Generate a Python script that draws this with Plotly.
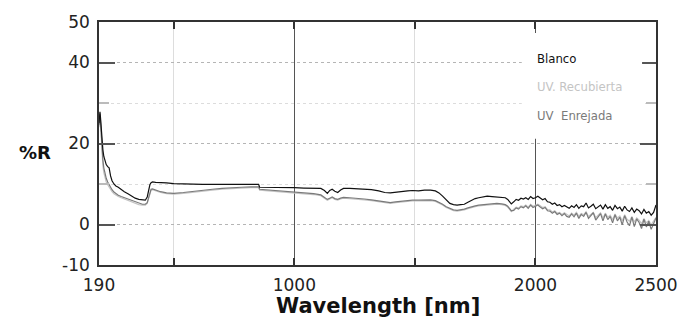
import plotly.graph_objects as go

# ---------------- data ----------------
wavelength = [190, 192, 194, 196, 198, 202, 206, 210, 215, 220, 226, 232, 238, 244, 252, 260, 270, 282,
              295, 310, 325, 340, 355, 370, 382, 390, 396, 401, 406, 412, 425, 445, 470, 500, 540, 580,
              620, 660, 700, 740, 780, 820, 852, 856, 880, 920, 960, 1000, 1040, 1080, 1110, 1125, 1137,
              1147, 1157, 1168, 1180, 1192, 1204, 1230, 1260, 1290, 1320, 1350, 1375, 1398, 1420, 1445,
              1470, 1490, 1515, 1540, 1565, 1585, 1600, 1615, 1630, 1645, 1660, 1675, 1690, 1705, 1720,
              1735, 1750, 1765, 1780, 1800, 1820, 1840, 1860, 1875, 1885, 1893, 1900,
              1910, 1920, 1930, 1940, 1950, 1960, 1970, 1980, 1990, 2000,
              2010, 2020, 2030, 2040, 2050, 2060, 2070, 2080, 2090, 2100,
              2110, 2120, 2130, 2140, 2150, 2160, 2170, 2180, 2190, 2200,
              2210, 2220, 2230, 2240, 2250, 2260, 2270, 2280, 2290, 2300,
              2310, 2320, 2330, 2340, 2350, 2360, 2370, 2380, 2390, 2400,
              2410, 2420, 2430, 2440, 2450, 2460, 2470, 2480, 2490, 2500]

blanco = [25.0, 27.0, 27.8, 26.5, 24.5, 21.5, 18.5, 16.8, 15.8, 14.8, 14.3, 14.0, 12.0, 10.8, 10.0, 9.5,
          9.2, 8.6, 8.1, 7.6, 7.0, 6.5, 6.2, 6.0, 6.0, 6.8, 8.5, 9.8, 10.3, 10.5, 10.4, 10.4, 10.3, 10.1,
          10.0, 9.9, 9.9, 9.9, 9.9, 9.9, 9.9, 9.9, 9.9, 9.2, 9.2, 9.2, 9.1, 9.1, 9.0, 9.0, 8.9, 8.4, 7.7,
          8.4, 8.7, 8.2, 7.9, 8.5, 8.9, 8.9, 8.8, 8.7, 8.6, 8.3, 7.9, 7.8, 8.0, 8.2, 8.3, 8.4, 8.3, 8.5,
          8.5, 8.3, 7.8, 7.0, 6.0, 5.2, 4.9, 4.8, 4.9, 5.0, 5.5, 6.0, 6.4, 6.6, 6.8, 7.0, 6.9, 6.8, 6.8,
          6.6, 6.2, 5.6, 5.1,
          5.6, 6.2, 6.0, 6.5, 6.3, 6.6, 6.2, 6.9, 6.4, 6.6,
          7.0, 6.5, 6.1, 6.4, 5.6, 5.5, 5.0, 5.3, 4.7, 4.9,
          4.4, 4.7, 4.3, 4.0, 4.6, 4.2, 4.9, 4.0, 4.6, 4.4,
          5.3, 4.1, 4.5, 5.0, 3.9, 4.3, 4.8, 3.8, 4.9, 4.0,
          4.4, 3.5, 4.7, 3.9, 4.3, 3.3, 4.5, 3.6, 3.2, 4.1,
          3.0, 3.8, 3.4, 2.6, 3.7, 2.8, 3.2, 2.3, 3.0, 4.8]

uv_recubierta = [24.0, 26.5, 27.0, 25.0, 22.0, 17.5, 14.5, 12.8, 11.5, 10.5, 9.8, 9.2, 8.6, 8.1, 7.6, 7.2,
                 6.9, 6.6, 6.3, 6.0, 5.6, 5.2, 4.9, 4.8, 4.8, 5.2, 6.5, 7.8, 8.5, 8.6, 8.3, 7.9, 7.6, 7.5,
                 7.7, 8.0, 8.3, 8.5, 8.7, 8.9, 9.0, 9.1, 9.1, 8.5, 8.4, 8.2, 8.0, 7.8, 7.6, 7.4, 7.1, 6.6,
                 6.0, 6.3, 6.6, 6.2, 6.0, 6.3, 6.5, 6.4, 6.3, 6.1, 5.9, 5.6, 5.3, 5.2, 5.4, 5.6, 5.7, 5.8,
                 5.8, 5.9, 5.9, 5.7, 5.3, 4.8, 4.2, 3.7, 3.4, 3.3, 3.4, 3.6, 3.9, 4.2, 4.4, 4.6, 4.7, 4.9,
                 5.0, 5.0, 4.9, 4.7, 4.3, 3.7, 3.2,
                 3.8, 4.3, 4.1, 4.6, 4.4, 4.8, 4.3, 5.0, 4.5, 4.7,
                 5.0, 4.6, 4.2, 4.4, 3.7, 3.6, 3.1, 3.4, 2.8, 3.0,
                 2.5, 2.9, 2.4, 2.1, 2.8, 2.3, 3.0, 2.0, 2.7, 2.4,
                 3.2, 2.0, 2.5, 3.0, 1.7, 2.3, 2.9, 1.6, 2.8, 1.8,
                 2.3, 1.2, 2.6, 1.6, 2.1, 0.9, 2.4, 1.3, 0.8, 2.0,
                 0.6, 1.6, 1.1, 0.2, 1.5, 0.4, 1.0, -0.1, 0.8, 1.8]

uv_enrejada = [24.5, 26.8, 27.4, 25.8, 23.0, 19.0, 16.0, 14.0, 12.6, 11.4, 10.5, 9.8, 9.1, 8.6, 8.0, 7.6,
               7.2, 6.9, 6.6, 6.3, 5.9, 5.5, 5.2, 5.0, 5.0, 5.4, 6.7, 8.0, 8.7, 8.8, 8.5, 8.1, 7.8, 7.7,
               7.9, 8.2, 8.5, 8.7, 8.9, 9.1, 9.2, 9.3, 9.3, 8.7, 8.6, 8.4, 8.2, 8.0, 7.8, 7.6, 7.3, 6.8,
               6.2, 6.5, 6.8, 6.4, 6.2, 6.5, 6.7, 6.6, 6.5, 6.3, 6.1, 5.8, 5.5, 5.4, 5.6, 5.8, 5.9, 6.0,
               6.0, 6.1, 6.1, 5.9, 5.5, 5.0, 4.4, 3.9, 3.6, 3.5, 3.6, 3.8, 4.1, 4.4, 4.6, 4.8, 4.9, 5.1,
               5.2, 5.2, 5.1, 4.9, 4.5, 3.9, 3.4,
               3.5, 4.1, 3.8, 4.4, 4.1, 4.6, 4.0, 4.8, 4.2, 4.5,
               4.8, 4.3, 3.9, 4.2, 3.4, 3.3, 2.8, 3.2, 2.5, 2.8,
               2.2, 2.7, 2.0, 1.8, 2.6, 1.9, 2.8, 1.5, 2.5, 2.0,
               3.0, 1.5, 2.2, 2.9, 1.1, 2.0, 2.7, 0.9, 2.6, 1.2,
               2.0, 0.4, 2.4, 0.9, 1.8, -0.1, 2.2, 0.6, -0.3, 1.8,
               -0.5, 1.4, 0.5, -1.0, 1.3, -0.6, 0.8, -1.2, 0.4, 1.6]

series_names = ["Blanco", "UV. Recubierta", "UV  Enrejada"]
series_colors = ["#111111", "#c4c4c4", "#7a7a7a"]

x_major_ticks = [190, 1000, 2000, 2500]
x_minor_ticks = [500, 1500]
y_major_ticks = [-10, 0, 20, 40, 50]
y_minor_ticks = [10, 30]

# ---------------- figure ----------------
fig = go.Figure()
for name, ys, col in [(series_names[1], uv_recubierta, series_colors[1]),
                      (series_names[2], uv_enrejada, series_colors[2]),
                      (series_names[0], blanco, series_colors[0])]:
    fig.add_trace(go.Scatter(x=wavelength, y=ys, mode="lines", name=name,
                             line=dict(color=col, width=1.2), showlegend=False))

tick_font = dict(family="DejaVu Sans, Arial, sans-serif", size=17, color="#222222")

fig.update_layout(
    width=699, height=321,
    margin=dict(l=99, r=43, t=16, b=56),
    paper_bgcolor="white", plot_bgcolor="white",
    xaxis=dict(
        range=[190, 2500], tickmode="array", tickvals=x_major_ticks,
        ticktext=[str(v) for v in x_major_ticks],
        showgrid=True, gridcolor="#555555", gridwidth=1,
        ticks="inside", ticklen=7, tickcolor="#333333", tickwidth=1.5,
        showline=True, linecolor="#333333", linewidth=1.6, mirror="ticks",
        tickfont=tick_font, ticklabelstandoff=4, zeroline=False,
        minor=dict(tickmode="array", tickvals=x_minor_ticks, showgrid=True,
                   gridcolor="#dddddd", gridwidth=1, ticks="inside", ticklen=7,
                   tickcolor="#333333"),
    ),
    yaxis=dict(
        range=[-10, 50], tickmode="array", tickvals=y_major_ticks,
        ticktext=[str(v) for v in y_major_ticks],
        showgrid=True, gridcolor="#b5b5b5", griddash="dot", gridwidth=1,
        ticks="inside", ticklen=16, tickcolor="#555555", tickwidth=1.5,
        showline=True, linecolor="#333333", linewidth=1.6, mirror="ticks",
        tickfont=tick_font, ticklabelstandoff=4, zeroline=False,
        minor=dict(tickmode="array", tickvals=y_minor_ticks, showgrid=True,
                   gridcolor="#dcdcdc", griddash="dot", gridwidth=1, ticks="inside",
                   ticklen=10, tickcolor="#bbbbbb"),
    ),
)

# white background behind legend texts (covers grid lines there)
fig.add_shape(type="rect", xref="paper", yref="paper", x0=0.759, x1=0.975, y0=0.52, y1=0.955,
              fillcolor="white", line=dict(width=0), layer="above")

legend_font = "Liberation Sans Narrow, DejaVu Sans Condensed, Arial Narrow, sans-serif"
for i, (name, col) in enumerate(zip(series_names, series_colors)):
    fig.add_annotation(xref="paper", yref="paper", x=0.783, y=0.851 - i * 0.117,
                       xanchor="left", yanchor="middle", showarrow=False, text=name,
                       font=dict(family=legend_font, size=13, color=col))

fig.add_annotation(xref="paper", yref="paper", x=-0.115, y=0.462, showarrow=False,
                   text="<b>%R</b>", xanchor="center", yanchor="middle",
                   font=dict(family="DejaVu Sans, Arial, sans-serif", size=18, color="#111111"))
fig.add_annotation(xref="paper", yref="paper", x=0.5, y=-0.17, showarrow=False,
                   text="<b>Wavelength [nm]</b>", xanchor="center", yanchor="middle",
                   font=dict(family="DejaVu Sans, Arial, sans-serif", size=21, color="#111111"))

fig.write_html("out.html")
